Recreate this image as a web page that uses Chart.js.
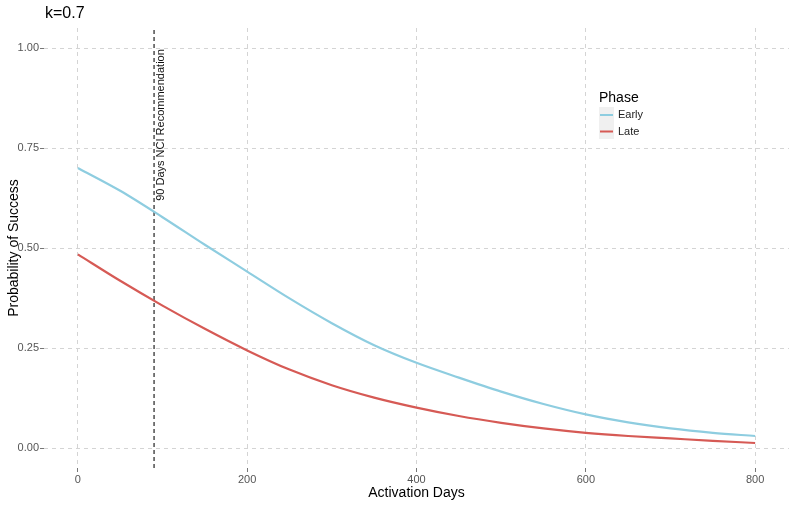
<!DOCTYPE html>
<html>
<head>
<meta charset="utf-8">
<script src="https://cdn.jsdelivr.net/npm/chart.js@4"></script>
<style>
html,body{margin:0;padding:0;background:#fff;}
#wrap{width:790px;height:506px;position:relative;}
</style>
</head>
<body>
<div id="wrap"><canvas id="chart" width="790" height="506"></canvas></div>
<script>

/* data */
let days = [0,50,100,150,200,250,300,350,400,450,500,550,600,650,700,750,800];
let early = [0.700,0.643,0.577,0.508,0.441,0.374,0.312,0.257,0.213,0.176,0.141,0.110,0.084,0.064,0.049,0.038,0.030];
let late = [0.484,0.418,0.356,0.298,0.244,0.196,0.157,0.126,0.101,0.080,0.063,0.049,0.038,0.030,0.024,0.018,0.0125];
let xTicks = [0,200,400,600,800];
let yTicks = [0,0.25,0.5,0.75,1];
let vlineDay = 90;
let seriesNames = ["Early","Late"];
let colors = ["#8ecde0","#d65a55"];

let font = "'Liberation Sans', Arial, sans-serif";

function pts(vals){
return days.map((d,i) => ({x:d, y:vals[i]}));
}

/* titles, annotation and legend drawn on top */
let decor = {
id: "decor",
afterDraw(chart){
let ctx = chart.ctx;
let xs = chart.scales.x;
let a = chart.chartArea;
ctx.save();

ctx.fillStyle = "#000";
ctx.textBaseline = "middle";

/* plot title */
ctx.font = "16px " + font;
ctx.textAlign = "left";
ctx.fillText("k=0.7", a.left + 1, 14);

/* x axis title */
ctx.font = "14px " + font;
ctx.textAlign = "center";
ctx.fillText("Activation Days", (a.left + a.right) / 2, 493);

/* y axis title */
ctx.save();
ctx.translate(14, (a.top + a.bottom) / 2);
ctx.rotate(-Math.PI / 2);
ctx.fillText("Probability of Success", 0, 0);
ctx.restore();

/* vline annotation */
ctx.save();
ctx.font = "11px " + font;
ctx.translate(xs.getPixelForValue(vlineDay) + 7, 125);
ctx.rotate(-Math.PI / 2);
ctx.fillStyle = "#111";
ctx.fillText("90 Days NCI Recommendation", 0, 0);
ctx.restore();

/* legend */
ctx.textAlign = "left";
ctx.font = "14px " + font;
ctx.fillText("Phase", 599, 98);
ctx.fillStyle = "#f0f0f0";
ctx.fillRect(599, 107, 15, 32);
ctx.font = "11px " + font;
seriesNames.forEach((n,i) => {
let y = 115 + i * 16.5;
ctx.strokeStyle = colors[i];
ctx.lineWidth = 2;
ctx.beginPath();
ctx.moveTo(600, y);
ctx.lineTo(613, y);
ctx.stroke();
ctx.fillStyle = "#222";
ctx.fillText(n, 618, y);
});

ctx.restore();
}
};

new Chart(document.getElementById("chart"), {
type: "line",
data: {
datasets: [
{
label: seriesNames[0],
data: pts(early),
borderColor: colors[0],
borderWidth: 2.2,
pointRadius: 0,
cubicInterpolationMode: "monotone"
},
{
label: seriesNames[1],
data: pts(late),
borderColor: colors[1],
borderWidth: 2.2,
pointRadius: 0,
cubicInterpolationMode: "monotone"
},
{
label: "vline",
data: [{x:vlineDay, y:-0.05}, {x:vlineDay, y:1.05}],
borderColor: "#222",
borderWidth: 1.2,
borderDash: [4,3],
pointRadius: 0
}
]
},
options: {
responsive: false,
animation: false,
layout: { padding: { top: 28, right: 1, left: 0, bottom: 0 } },
plugins: {
legend: { display: false },
tooltip: { enabled: false }
},
scales: {
x: {
type: "linear",
min: -40,
max: 840,
afterBuildTicks: s => { s.ticks = xTicks.map(v => ({value: v})); },
afterFit: s => { s.height = 38; },
grid: { color: "#d4d4d4", lineWidth: 1, tickLength: 4, tickColor: "#777" },
border: { display: false, dash: [4,4] },
ticks: { color: "#555", font: { family: font, size: 11 }, padding: 1, maxRotation: 0 }
},
y: {
min: -0.05,
max: 1.05,
afterBuildTicks: s => { s.ticks = yTicks.map(v => ({value: v})); },
afterFit: s => { s.width = 44; },
grid: { color: "#d4d4d4", lineWidth: 1, tickLength: 4, tickColor: "#777" },
border: { display: false, dash: [4,4] },
ticks: { color: "#555", font: { family: font, size: 11 }, padding: 1,
callback: v => v.toFixed(2) }
}
}
},
plugins: [decor]
});

</script>
</body>
</html>
